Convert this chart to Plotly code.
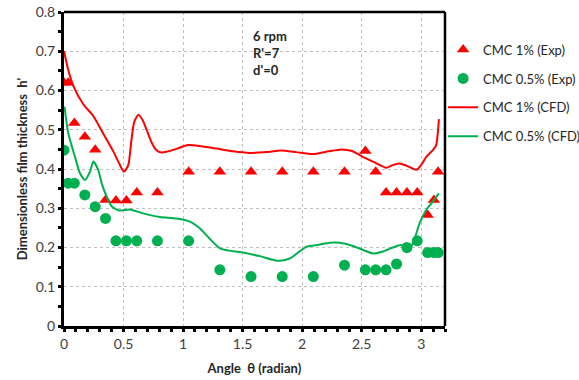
import plotly.graph_objects as go

# Experimental data (angle in radian)
exp1_x = [0.0, 0.035, 0.087, 0.175, 0.262, 0.349, 0.436, 0.524, 0.611, 0.785,
          1.047, 1.309, 1.571, 1.833, 2.094, 2.356, 2.531, 2.618, 2.705, 2.793,
          2.880, 2.967, 3.054, 3.107, 3.142]
exp1_y = [0.62, 0.62, 0.517, 0.482, 0.449, 0.321, 0.32, 0.32, 0.34, 0.34,
          0.393, 0.393, 0.393, 0.393, 0.393, 0.393, 0.446, 0.393, 0.34, 0.34,
          0.34, 0.34, 0.283, 0.321, 0.393]

exp05_x = [0.0, 0.035, 0.087, 0.175, 0.262, 0.349, 0.436, 0.524, 0.611, 0.785,
           1.047, 1.309, 1.571, 1.833, 2.094, 2.356, 2.531, 2.618, 2.705, 2.793,
           2.880, 2.967, 3.054, 3.107, 3.142]
exp05_y = [0.448, 0.364, 0.364, 0.334, 0.304, 0.274, 0.217, 0.217, 0.217, 0.217,
           0.217, 0.143, 0.126, 0.126, 0.126, 0.155, 0.143, 0.143, 0.143, 0.158,
           0.2, 0.217, 0.187, 0.187, 0.187]

# CFD curves
cfd1_x = [0.0, 0.036, 0.078, 0.162, 0.246, 0.33, 0.414, 0.47, 0.503, 0.54, 0.565,
          0.59, 0.624, 0.66, 0.694, 0.74, 0.777, 0.82, 0.861, 0.95, 1.04, 1.15,
          1.28, 1.42, 1.56, 1.70, 1.826, 1.95, 2.09, 2.22, 2.33, 2.42, 2.51, 2.60,
          2.707, 2.76, 2.819, 2.88, 2.959, 3.0, 3.043, 3.098, 3.125, 3.149]
cfd1_y = [0.70, 0.652, 0.612, 0.565, 0.535, 0.49, 0.445, 0.41, 0.393, 0.41, 0.47,
          0.52, 0.538, 0.525, 0.50, 0.465, 0.448, 0.442, 0.444, 0.452, 0.461, 0.458,
          0.452, 0.445, 0.441, 0.443, 0.447, 0.443, 0.438, 0.445, 0.45, 0.446, 0.431, 0.418,
          0.403, 0.41, 0.414, 0.408, 0.398, 0.41, 0.431, 0.448, 0.46, 0.527]

cfd05_x = [0.004, 0.036, 0.092, 0.134, 0.176, 0.218, 0.246, 0.288, 0.316, 0.358,
           0.40, 0.44, 0.47, 0.554, 0.665, 0.805, 0.945, 1.057, 1.14, 1.309,
           1.504, 1.644, 1.798, 1.896, 2.036, 2.14, 2.23, 2.315, 2.427, 2.595,
           2.68, 2.763, 2.833, 2.88, 2.93, 2.987, 3.043, 3.098, 3.149]
cfd05_y = [0.559, 0.491, 0.431, 0.389, 0.372, 0.393, 0.419, 0.397, 0.364, 0.33,
           0.305, 0.297, 0.294, 0.297, 0.287, 0.278, 0.274, 0.266, 0.249, 0.198,
           0.187, 0.178, 0.166, 0.172, 0.202, 0.207, 0.212, 0.212, 0.204, 0.185,
           0.19, 0.2, 0.206, 0.189, 0.21, 0.262, 0.296, 0.317, 0.338]

RED = "#FF0000"
GREEN = "#00B050"
FONT = "Lato, 'Open Sans', sans-serif"

fig = go.Figure()
fig.add_trace(go.Scatter(x=exp1_x, y=exp1_y, mode="markers", name="CMC 1% (Exp)",
                         legendgroup="a",
                         marker=dict(symbol="triangle-up", size=11, color=RED)))
fig.add_trace(go.Scatter(x=exp05_x, y=exp05_y, mode="markers", name="CMC 0.5% (Exp)",
                         legendgroup="b",
                         marker=dict(symbol="circle", size=11, color=GREEN)))
fig.add_trace(go.Scatter(x=cfd1_x, y=cfd1_y, mode="lines", name="CMC 1% (CFD)",
                         legendgroup="c",
                         line=dict(color=RED, width=2, shape="spline", smoothing=0.6)))
fig.add_trace(go.Scatter(x=cfd05_x, y=cfd05_y, mode="lines", name="CMC 0.5% (CFD)",
                         legendgroup="d",
                         line=dict(color=GREEN, width=2, shape="spline", smoothing=0.6)))

axis_common = dict(
    showgrid=True, gridcolor="#BFBFBF", griddash="dot", gridwidth=1,
    showline=True, linecolor="black", linewidth=3, mirror=False,
    ticks="outside", ticklen=3, tickwidth=3, tickcolor="black",
    tickfont=dict(family=FONT, size=14, color="#404040"),
    zeroline=False,
)

fig.update_layout(
    width=579, height=380,
    margin=dict(l=64, r=134, t=12, b=54, autoexpand=False),
    paper_bgcolor="white", plot_bgcolor="white",
    font=dict(family=FONT, size=13, color="#404040"),
    xaxis=dict(range=[0, 3.2], dtick=0.5, tick0=0,
               minor=dict(dtick=0.1, ticks="outside", ticklen=3, tickwidth=3,
                          tickcolor="black", showgrid=False),
               title=dict(text="<b>Angle  θ (radian)</b>", standoff=14,
                          font=dict(family=FONT, size=13, color="#262626")),
               **axis_common),
    yaxis=dict(range=[0, 0.8], dtick=0.1, tick0=0,
               minor=dict(dtick=0.05, ticks="outside", ticklen=3, tickwidth=3,
                          tickcolor="black", showgrid=False),
               title=dict(text="<b>Dimensionless film thickness  h'</b>", standoff=6,
                          font=dict(family=FONT, size=13, color="#262626")),
               **axis_common),
    legend=dict(x=0.995, y=0.928, xanchor="left", yanchor="top",
                traceorder="grouped", tracegroupgap=9,
                font=dict(family=FONT, size=13, color="#262626"),
                bgcolor="rgba(0,0,0,0)", itemwidth=30),
    showlegend=True,
)

# top and right frame
fig.add_shape(type="line", xref="paper", yref="paper", x0=0, x1=1, y0=1, y1=1,
              line=dict(color="black", width=2.5))
fig.add_shape(type="line", xref="paper", yref="paper", x0=1, x1=1, y0=0, y1=1,
              line=dict(color="black", width=2.5))

fig.add_annotation(xref="paper", yref="paper", x=0.49, y=0.954, xanchor="left",
                   yanchor="top", align="left", showarrow=False,
                   text="<b>6 rpm<br>R'=7<br>d'=0</b>",
                   font=dict(family=FONT, size=13, color="#262626"))

fig.write_html("out.html")
